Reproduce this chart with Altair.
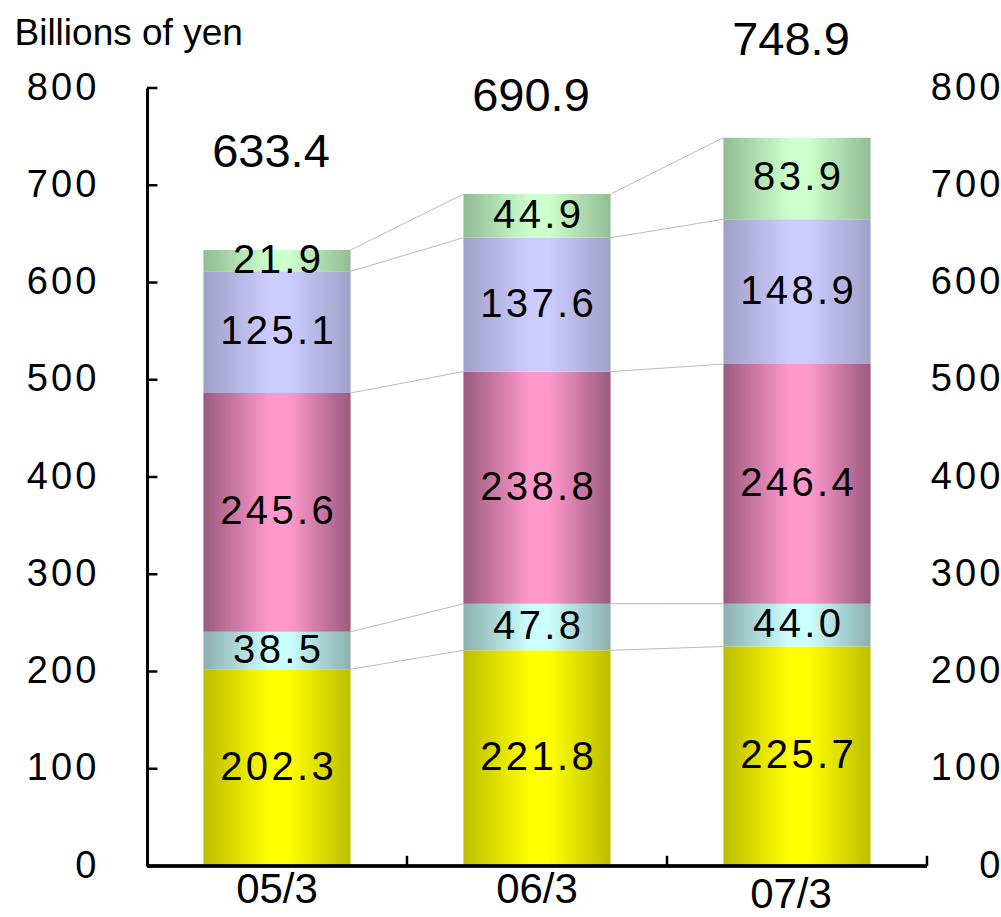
import json
import altair as alt
import pandas as pd

# Fiscal year-end periods and the five stacked components (bottom to top)
periods = ["05/3", "06/3", "07/3"]
seg_yellow = [202.3, 221.8, 225.7]
seg_cyan = [38.5, 47.8, 44.0]
seg_pink = [245.6, 238.8, 246.4]
seg_purple = [125.1, 137.6, 148.9]
seg_green = [21.9, 44.9, 83.9]
totals = [633.4, 690.9, 748.9]
y_ticks = [0, 100, 200, 300, 400, 500, 600, 700, 800]

series = [seg_yellow, seg_cyan, seg_pink, seg_purple, seg_green]
# (edge colour, centre colour) of each component's horizontal gradient
palette = [
    ("#BDBD00", "#FFFF00"),
    ("#8CAFAF", "#CCFFFF"),
    ("#9A5A7E", "#FF99CC"),
    ("#A0A0C8", "#CCCCFF"),
    ("#93BC93", "#CCFFCC"),
]

HALF = 0.283  # half bar width in category units
FONT = "Liberation Sans"
HAIR = "\u200a"  # hair space, used to track the digits out slightly


def tracked(s):
    return HAIR.join(s)


rows = []
for i, p in enumerate(periods):
    base = 0.0
    for k, vals in enumerate(series):
        v = vals[i]
        rows.append(dict(idx=i, period=p, seg=k, value=v, y0=base, y1=base + v,
                         mid=base + v / 2, label=tracked(f"{v:.1f}"),
                         xl=i - HALF, xr=i + HALF))
        base += v
df = pd.DataFrame(rows)

# connectors between the tops of matching segments of neighbouring bars
links = []
for k in range(len(series)):
    for i in range(len(periods) - 1):
        a = df[(df.idx == i) & (df.seg == k)].iloc[0]
        b = df[(df.idx == i + 1) & (df.seg == k)].iloc[0]
        links.append(dict(x=i + HALF, x2=i + 1 - HALF, y=a.y1, y2=b.y1))
links_df = pd.DataFrame(links)

tot_df = pd.DataFrame(dict(idx=list(range(len(periods))), total=totals,
                           label=[f"{t:.1f}" for t in totals]))
per_df = pd.DataFrame(dict(idx=list(range(len(periods))), period=periods))
ytick_df = pd.DataFrame(dict(v=y_ticks))
sep_df = pd.DataFrame(dict(x=[0.5, 1.5, 2.5]))

xscale = alt.Scale(domain=[-0.5, 2.5], nice=False, zero=False)
yscale = alt.Scale(domain=[0, 800], nice=False, zero=True)

y_label_map = {str(v): tracked(str(v)) for v in y_ticks}
y_label_expr = json.dumps(y_label_map, ensure_ascii=False) + "[datum.label]"

y_axis_left = alt.Axis(
    values=y_ticks, ticks=False, grid=False, labelExpr=y_label_expr,
    domainColor="black", domainWidth=3,
    labelFontSize=38, labelColor="black", labelFont=FONT, labelPadding=51,
    title="Billions of yen", titleAngle=0, titleAlign="left", titleBaseline="top",
    titleX=-133, titleY=-73, titleFontSize=37, titleFontWeight="normal",
    titleFont=FONT, titleColor="black",
)
y_axis_right = alt.Axis(
    orient="right", values=y_ticks, ticks=False, grid=False, domain=False,
    labelExpr=y_label_expr,
    labelFontSize=38, labelColor="black", labelFont=FONT,
    labelAlign="right", labelPadding=73, title=None,
)


def gradient(edge, centre):
    return alt.Gradient(
        gradient="linear", x1=0, y1=0, x2=1, y2=0,
        stops=[
            alt.GradientStop(offset=0, color=edge),
            alt.GradientStop(offset=0.45, color=centre),
            alt.GradientStop(offset=0.58, color=centre),
            alt.GradientStop(offset=1, color=edge),
        ],
    )


layers = []
for k, (edge, centre) in enumerate(palette):
    sub = df[df.seg == k]
    first = k == 0
    layers.append(
        alt.Chart(sub).mark_bar(fill=gradient(edge, centre)).encode(
            x=alt.X("xl:Q", scale=xscale, axis=None),
            x2="xr:Q",
            y=alt.Y("y0:Q", scale=yscale, axis=y_axis_left if first else None),
            y2="y1:Q",
        )
    )

connectors = alt.Chart(links_df).mark_rule(color="#BBBBBB", strokeWidth=1).encode(
    x=alt.X("x:Q", scale=xscale, axis=None),
    x2="x2:Q",
    y=alt.Y("y:Q", scale=yscale, axis=None),
    y2="y2:Q",
)

seg_labels = alt.Chart(df).mark_text(
    fontSize=40, font=FONT, color="black", baseline="middle", align="center"
).encode(
    x=alt.X("idx:Q", scale=xscale, axis=None),
    y=alt.Y("mid:Q", scale=yscale, axis=None),
    text="label:N",
)

total_labels = alt.Chart(tot_df).mark_text(
    fontSize=47, font=FONT, color="black", baseline="middle", align="center", dy=-97, dx=-6
).encode(
    x=alt.X("idx:Q", scale=xscale, axis=None),
    y=alt.Y("total:Q", scale=yscale, axis=None),
    text="label:N",
)

# inward-pointing ticks on the left value axis; this layer also carries the right-hand axis
left_ticks = alt.Chart(ytick_df).mark_rule(color="black", strokeWidth=2.5).encode(
    x=alt.X(datum=-0.5, scale=xscale, axis=None),
    x2=alt.datum(-0.46),
    y=alt.Y("v:Q", scale=yscale, axis=y_axis_right),
)

# category separators pointing up from the baseline
sep_ticks = alt.Chart(sep_df).mark_rule(color="black", strokeWidth=2.5).encode(
    x=alt.X("x:Q", scale=xscale, axis=None),
    y=alt.Y(datum=0, scale=yscale, axis=None),
    y2=alt.datum(10.5),
)

# baseline of the category axis
baseline = alt.Chart(per_df).mark_rule(color="black", strokeWidth=3).encode(
    x=alt.X(datum=-0.5, scale=xscale, axis=None),
    x2=alt.datum(2.5),
    y=alt.Y(datum=0, scale=yscale, axis=None),
)

# period labels under the bars; the last one sits a little lower
last = periods[-1]
period_text = alt.Chart(per_df).mark_text(
    fontSize=42, font=FONT, color="black", baseline="middle", align="center", dy=24
).encode(
    x=alt.X("idx:Q", scale=xscale, axis=None),
    y=alt.Y(datum=0, scale=yscale, axis=None),
    text="period:N",
).transform_filter(alt.datum.period != last)

period_text_last = alt.Chart(per_df).mark_text(
    fontSize=42, font=FONT, color="black", baseline="middle", align="center", dy=29, dx=-6
).encode(
    x=alt.X("idx:Q", scale=xscale, axis=None),
    y=alt.Y(datum=0, scale=yscale, axis=None),
    text="period:N",
).transform_filter(alt.datum.period == last)

chart = (
    alt.layer(*layers, connectors, seg_labels, total_labels, left_ticks, sep_ticks,
              baseline, period_text, period_text_last)
    .resolve_axis(y="independent")
    .properties(
        width=780, height=778,
        autosize=alt.AutoSizeParams(type="none"),
        padding={"left": 147, "top": 88, "right": 74, "bottom": 51},
        background="white",
    )
    .configure(font=FONT)
    .configure_view(strokeWidth=0)
)

chart.save("out.html", embed_options={"renderer": "svg", "actions": False})
